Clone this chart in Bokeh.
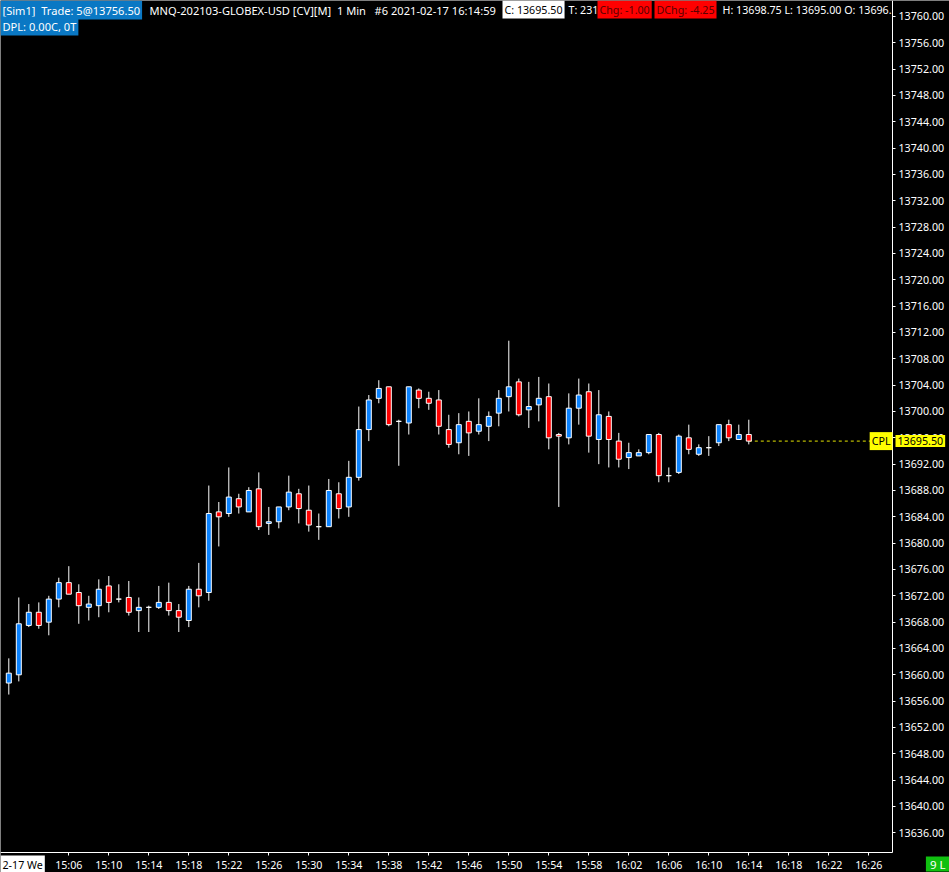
import pandas as pd
from bokeh.plotting import figure
from bokeh.models import (ColumnDataSource, Range1d, FixedTicker, DatetimeTickFormatter,
                          NumeralTickFormatter, Label)
from bokeh.embed import file_html
from bokeh.resources import INLINE

# ---------------- data (1-minute bars, MNQ 2021-02-17 15:00 .. 16:14) ----------------
session_start = "2021-02-17 15:00"

opens = [13658.75, 13660.0, 13667.5, 13669.5, 13668.0, 13671.5, 13674.0, 13672.5, 13670.25, 13670.5,
         13673.5, 13671.5, 13671.75, 13669.75, 13670.25, 13670.25, 13671.0, 13669.75, 13668.25, 13673.0,
         13672.5, 13684.75, 13684.5, 13686.75, 13684.75, 13688.25, 13683.0, 13683.25, 13685.5, 13687.5,
         13685.0, 13682.5, 13682.5, 13687.5, 13685.5, 13690.0, 13697.25, 13702.0, 13703.75, 13698.5,
         13698.25, 13703.25, 13702.0, 13701.75, 13697.25, 13695.25, 13698.5, 13697.0, 13697.75, 13699.75,
         13702.25, 13704.5, 13700.25, 13701.0, 13702.25, 13696.5, 13696.0, 13700.5, 13703.0, 13695.75,
         13699.25, 13695.5, 13693.0, 13693.25, 13693.75, 13696.5, 13690.25, 13690.75, 13696.0, 13693.5,
         13694.5, 13695.25, 13698.0, 13695.75, 13696.5]
highs = [13662.5, 13671.75, 13670.75, 13671.0, 13672.0, 13674.75, 13676.5, 13673.75, 13672.0, 13674.5,
         13675.0, 13673.75, 13674.25, 13671.75, 13670.5, 13673.5, 13674.0, 13670.75, 13673.5, 13677.0,
         13688.75, 13686.25, 13691.5, 13687.5, 13688.5, 13690.75, 13685.5, 13685.5, 13690.25, 13688.25,
         13688.75, 13684.5, 13689.75, 13689.25, 13692.5, 13700.75, 13702.5, 13704.75, 13703.75, 13698.75,
         13703.75, 13703.5, 13703.0, 13703.25, 13699.5, 13699.75, 13700.0, 13702.0, 13700.0, 13703.25,
         13710.75, 13705.0, 13704.5, 13705.25, 13704.25, 13696.75, 13702.75, 13705.0, 13704.25, 13703.25,
         13700.0, 13696.75, 13695.25, 13694.25, 13696.5, 13696.75, 13691.5, 13696.5, 13698.0, 13695.0,
         13696.25, 13698.0, 13698.75, 13698.0, 13698.75]
lows = [13657.0, 13659.0, 13667.25, 13667.0, 13666.0, 13670.25, 13672.25, 13667.75, 13668.25, 13668.75,
        13669.5, 13671.0, 13669.0, 13666.5, 13666.5, 13670.0, 13669.0, 13666.5, 13667.25, 13670.25,
        13671.25, 13679.5, 13684.0, 13684.5, 13684.75, 13682.0, 13681.25, 13682.25, 13685.0, 13683.0,
        13681.75, 13680.5, 13682.5, 13683.75, 13684.0, 13689.5, 13695.5, 13701.25, 13697.75, 13691.75,
        13696.5, 13700.5, 13700.25, 13696.5, 13694.5, 13693.5, 13693.25, 13696.5, 13695.5, 13697.75,
        13700.0, 13699.25, 13697.5, 13698.5, 13694.25, 13685.5, 13695.0, 13698.0, 13693.75, 13692.0,
        13691.5, 13691.5, 13691.25, 13693.25, 13693.5, 13689.25, 13689.25, 13690.5, 13693.5, 13693.25,
        13693.25, 13694.75, 13695.5, 13695.75, 13695.0]
closes = [13660.25, 13667.75, 13669.5, 13667.5, 13671.5, 13674.0, 13672.25, 13670.5, 13670.75, 13673.0,
          13671.0, 13671.5, 13669.5, 13670.25, 13670.25, 13671.0, 13669.75, 13668.75, 13673.0, 13672.0,
          13684.5, 13684.0, 13687.0, 13685.5, 13688.0, 13682.5, 13683.25, 13685.5, 13687.75, 13685.25,
          13682.75, 13682.5, 13688.0, 13685.25, 13690.0, 13697.25, 13701.75, 13703.5, 13698.0, 13698.5,
          13703.75, 13702.0, 13701.25, 13697.75, 13695.0, 13698.0, 13696.75, 13698.0, 13699.25, 13702.0,
          13703.75, 13699.5, 13700.75, 13702.0, 13696.0, 13696.25, 13700.5, 13702.5, 13696.25, 13699.5,
          13695.75, 13692.75, 13693.75, 13693.75, 13696.5, 13690.25, 13690.25, 13696.25, 13694.25, 13694.5,
          13694.5, 13698.0, 13696.0, 13696.5, 13695.5]

x_tick_labels = ["15:06", "15:10", "15:14", "15:18", "15:22", "15:26", "15:30", "15:34", "15:38",
                 "15:42", "15:46", "15:50", "15:54", "15:58", "16:02", "16:06", "16:10", "16:14",
                 "16:18", "16:22", "16:26"]
y_ticks = list(range(13636, 13761, 4))
cpl_price = 13695.50

header_texts = ["[Sim1]  Trade: 5@13756.50",
                "MNQ-202103-GLOBEX-USD [CV][M]  1 Min   #6 2021-02-17 16:14:59",
                "C: 13695.50", "T: 231", "Chg: -1.00", "DChg: -4.25",
                "H: 13698.75 L: 13695.00 O: 13696."]
dpl_text = "DPL: 0.00C, 0T"
date_text = "2-17 We"
lines_text = "9 L"

# view window (minutes after session start; price)
x_view_minutes = (-0.83, 94.07)
x_axis_minutes = 88.37          # where the price scale sits
y_view = (13629.97, 13762.43)
y_axis_price = 13633.0          # where the time scale sits

# ---------------- build ----------------
t0 = pd.Timestamp(session_start)
times = [t0 + pd.Timedelta(minutes=k) for k in range(len(opens))]
UP, DOWN, FLAT = "#0a82ff", "#ff0000", "#ffffff"
colors = [UP if c > o else (DOWN if c < o else FLAT) for o, c in zip(opens, closes)]
src = ColumnDataSource(dict(
    t=times, o=opens, h=highs, l=lows, c=closes,
    top=[max(o, c) for o, c in zip(opens, closes)],
    bot=[min(o, c) for o, c in zip(opens, closes)],
    col=colors))

W, H = 949, 872

def ms(ts):
    return ts.value / 1e6

x_start = t0 + pd.Timedelta(minutes=x_view_minutes[0])
x_end = t0 + pd.Timedelta(minutes=x_view_minutes[1])
x_axis = t0 + pd.Timedelta(minutes=x_axis_minutes)

p = figure(width=W, height=H, x_axis_type="datetime", y_axis_location="right",
           output_backend="svg", toolbar_location=None,
           x_range=Range1d(x_start, x_end), y_range=Range1d(*y_view),
           background_fill_color="#000000", border_fill_color="#000000",
           min_border_left=0, min_border_top=0, min_border_right=0, min_border_bottom=0)
p.outline_line_color = None
p.grid.visible = False

FONT = "Noto Sans"
FS = "10.7px"
HFS = "11.1px"
xa, ya = p.xaxis[0], p.yaxis[0]
for ax in (xa, ya):
    ax.axis_line_color = "#ffffff"
    ax.axis_line_width = 1
    ax.major_tick_line_color = "#ffffff"
    ax.minor_tick_line_color = None
    ax.major_tick_in = 0
    ax.major_tick_out = 3
    ax.major_label_text_color = "#ffffff"
    ax.major_label_text_font = FONT
    ax.major_label_text_font_size = FS

ya.fixed_location = ms(x_axis)
ya.bounds = (y_axis_price, y_view[1])
ya.major_label_standoff = 3
ya.ticker = FixedTicker(ticks=y_ticks)
ya.formatter = NumeralTickFormatter(format="0.00")

xa.fixed_location = y_axis_price
xa.bounds = (ms(x_start), ms(x_axis))
xa.major_label_standoff = 2
day = session_start.split(" ")[0]
xa.ticker = FixedTicker(ticks=[ms(pd.Timestamp(f"{day} {s}")) for s in x_tick_labels])
xa.formatter = DatetimeTickFormatter(minutes="%H:%M", hourmin="%H:%M", hours="%H:%M",
                                     minsec="%H:%M", seconds="%H:%M", days="%H:%M")

# current price line
p.segment(x0=[times[-1]], y0=[cpl_price], x1=[x_axis], y1=[cpl_price],
          line_color="#e6e600", line_width=1, line_dash="3 3")

# wicks and bodies
p.segment(x0="t", y0="l", x1="t", y1="h", source=src, line_color="#ffffff", line_width=1)
p.vbar(x="t", width=30000, top="top", bottom="bot", source=src,
       fill_color="col", line_color="#ffffff", line_width=1)

# ---------------- annotations ----------------
def lab(text, x, y, color="#ffffff", bg=None, align="left", base="top",
        xu="screen", yu="screen", pad=2, xoff=0, size=FS):
    kw = dict(x=x, y=y, x_units=xu, y_units=yu, text=text.replace(" ", "\u00a0"),
              text_color=color, text_font=FONT, text_font_size=size, text_align=align,
              text_baseline=base, padding=pad, x_offset=xoff)
    if bg:
        kw["background_fill_color"] = bg
        kw["background_fill_alpha"] = 1.0
    p.add_layout(Label(**kw))

BLUE_BG = "#0a78c4"
RED_TXT = "#5a0000"
hx = [0, 147, 502, 566, 597, 654, 720]
hsz = [HFS, HFS, FS, FS, FS, FS, FS]
hstyle = [("#ffffff", BLUE_BG), ("#ffffff", None), ("#000000", "#ffffff"), ("#ffffff", None),
          (RED_TXT, "#ff0000"), (RED_TXT, "#ff0000"), ("#ffffff", None)]
for txt, x, sz, (fc, bg) in zip(header_texts, hx, hsz, hstyle):
    lab(txt, x, H, color=fc, bg=bg, pad=2, size=sz)
lab(dpl_text, 0, H - 16, color="#ffffff", bg=BLUE_BG, pad=2, size=HFS)

lab("CPL", x_axis, cpl_price, color="#000000", bg="#ffff00", align="right",
    base="middle", xu="data", yu="data", pad=2)
lab(f"{cpl_price:.2f}", x_axis, cpl_price, color="#000000", bg="#ffff00",
    base="middle", xu="data", yu="data", pad=2, xoff=3)
lab(date_text, 0, 17, color="#000000", bg="#ffffff", pad=2)
lab(lines_text, W, 1, color="#ffffff", bg="#10c010", align="right", base="bottom",
    pad=dict(left=4, right=4, top=0, bottom=0), size="11.5px")

html = file_html(p, INLINE, title="MNQ 1 Min")
html = html.replace("<body>", '<body style="background-color:#000000;">', 1)
open("out.html", "w").write(html)
